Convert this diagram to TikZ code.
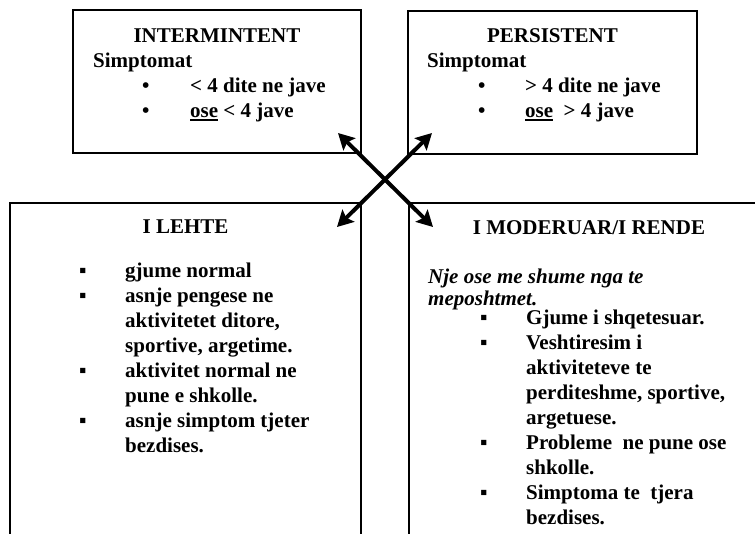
\documentclass[tikz,border=0pt]{standalone}
\usepackage{fontspec}
\setmainfont{Liberation Serif}
\usetikzlibrary{arrows.meta,positioning,calc}

% thick underline as in the scanned table
\newcommand{\undr}[1]{\setbox0\hbox{#1}\rlap{\rule[-3.5pt]{\wd0}{1.6pt}}#1}

\begin{document}
\begin{tikzpicture}[x=1pt, y=1pt,
    box/.style={draw, line width=1.5pt, inner sep=0pt},
    ttl/.style={font=\fontsize{21}{25}\selectfont\bfseries, inner sep=0pt, anchor=base},
    txt/.style={font=\fontsize{21}{25}\selectfont\bfseries, inner sep=0pt, align=left, anchor=base west},
    dbl/.style={{Stealth[length=16pt,width=17pt,inset=3pt]}-{Stealth[length=16pt,width=17pt,inset=3pt]}, line width=4pt}]
    \useasboundingbox (0,0) rectangle (755,-533);
    \clip (0,0) rectangle (755,-533);

    % Boxes
    \node[box, minimum width=288, minimum height=143] (intm) at (217,-81.5) {};
    \node[box, minimum width=289, minimum height=143] (pers) at (552.5,-82.5) {};
    \node[box, minimum width=351, minimum height=357] (leht) at (185.5,-381.5) {};
    \node[box, minimum width=391, minimum height=357] (mode) at (604.5,-381.5) {};

    % Intermintent (text nodes sit on the baseline of their last line)
    \node[ttl] (intmT) at (217,-42) {INTERMINTENT};
    \node[txt] (intmB) at (93,-117) {Simptomat\\
        \hspace*{49pt}\makebox[48pt][l]{•}< 4 dite ne jave\\
        \hspace*{49pt}\makebox[48pt][l]{•}\undr{ose} < 4 jave};

    % Persistent
    \node[ttl] (persT) at (552.5,-42) {PERSISTENT};
    \node[txt] (persB) at (427,-117) {Simptomat\\
        \hspace*{51pt}\makebox[47pt][l]{•}> 4 dite ne jave\\
        \hspace*{51pt}\makebox[47pt][l]{•}\undr{ose}\ \ > 4 jave};

    % I lehte
    \node[ttl] (lehtT) at (185.5,-233) {I LEHTE};
    \node[txt] (lehtB) at (79,-452) {\makebox[46pt][l]{▪}gjume normal\\
        \makebox[46pt][l]{▪}asnje pengese ne\\
        \hspace*{46pt}aktivitetet ditore,\\
        \hspace*{46pt}sportive, argetime.\\
        \makebox[46pt][l]{▪}aktivitet normal ne\\
        \hspace*{46pt}pune e shkolle.\\
        \makebox[46pt][l]{▪}asnje simptom tjeter\\
        \hspace*{46pt}bezdises.};

    % I moderuar / i rende
    \node[ttl] (modeT) at (589,-234) {I MODERUAR/I RENDE};
    \node[txt, font=\fontsize{21}{22}\selectfont\bfseries\itshape] (modeI) at (428,-305)
        {Nje ose me shume nga te\\ meposhtmet.};
    \node[txt] (modeB) at (480,-524) {\makebox[46pt][l]{▪}Gjume i shqetesuar.\\
        \makebox[46pt][l]{▪}Veshtiresim i\\
        \hspace*{46pt}aktiviteteve te\\
        \hspace*{46pt}perditeshme, sportive,\\
        \hspace*{46pt}argetuese.\\
        \makebox[46pt][l]{▪}Probleme\ \ ne pune ose\\
        \hspace*{46pt}shkolle.\\
        \makebox[46pt][l]{▪}Simptoma te\ \ tjera\\
        \hspace*{46pt}bezdises.};

    % Crossed arrows
    \coordinate (ul) at (338,-133);
    \coordinate (ur) at (432,-133);
    \coordinate (ll) at (337,-227);
    \coordinate (lr) at (433,-227);
    \draw[dbl] (ul) -- (lr);
    \draw[dbl] (ur) -- (ll);
\end{tikzpicture}
\end{document}
